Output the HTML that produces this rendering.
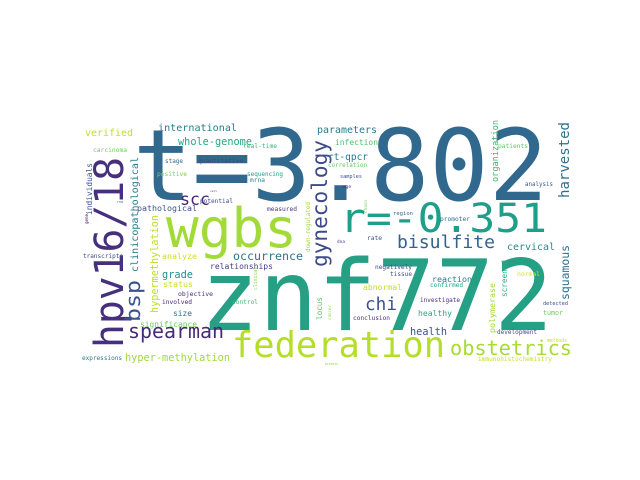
<!DOCTYPE html>
<html><head><meta charset="utf-8"><style>
html,body{margin:0;padding:0;background:#fff;}
svg{display:block;font-family:"DejaVu Sans Mono","Liberation Mono",monospace;}
</style></head><body>
<svg id="cloud" width="640" height="480" viewBox="0 0 640 480"></svg>
<script>
// word data: text, left x, baseline y, font size, length, color, vertical
const words = ["t=3.802","znf772","wgbs","federation","r=-0.351","hpv16/18","obstetrics","spearman","gynecology","harvested","bisulfite","chi","scc","bsp","clinicopathological","international","verified","whole-genome","parameters","infection","rt-qpcr","correlation","samples","age","pathological","occurrence","relationships","hypermethylation","analyze","grade","status","objective","involved","size","significance","hyper-methylation","expressions","transcripts","individuals","carcinoma","rna","gene","stage","quantitative","positive","sequencing","mrna","real-time","cell","potential","measured","down-regulated","clinical","control","locus","cancer","organization","patients","analysis","chain","region","promoter","dna","rate","cervical","negatively","tissue","reaction","confirmed","abnormal","investigate","healthy","conclusion","health","polymerase","screened","squamous","normal","detected","tumor","development","methods","immunohistochemistry","protein"];
const layout = [
[133,200,106,415,"#31688e",0],[200,330,108,353,"#25a085",0],[166,247,62,131,"#a2da37",0],[232,357,40,213,"#b5de2b",0],[340,232,40,207,"#1f9e89",0],
[123,348,40,191,"#46307e",1],[450,355,26,122,"#a8db34",0],[128,338,22,96,"#482878",0],[327,267,24,127,"#3e4a89",1],[569,198,20,76,"#2d708e",1],
[397,248,22,98,"#33638d",0],[365,310,26,32,"#3b528b",0],[180,205,22,30,"#482475",0],[140,322,20,42,"#3a548c",1],[138,272,13,115,"#26818e",1],
[158,131,14,79,"#277f8e",0],[85,136,14,48,"#bddf26",0],[178,145,13,74,"#23a983",0],[317,133,13,60,"#2a788e",0],[335,145,11,43,"#4ac16d",0],
[328,160,13,40,"#2a788e",0],[328,167,7,39,"#5ec962",0],[340,178,7,22,"#3b528b",0],[343,188,7,8,"#482878",0],[137,211,12,60,"#3b528b",0],
[233,260,13,70,"#2c728e",0],[210,269,11,63,"#433e85",0],[158,313,12,98,"#bddf26",1],[162,259,11,35,"#d0e11c",0],[162,278,13,31,"#21908d",0],
[163,287,11,30,"#cde11d",0],[178,296,8,35,"#472c7a",0],[162,304,8,30,"#482475",0],[173,316,11,19,"#2e6e8e",0],[140,327,11,57,"#6ccd5a",0],
[125,361,13,105,"#a0da39",0],[82,360,8,40,"#2a788e",0],[83,258,8,40,"#3e4a89",0],[92,215,10,52,"#3a548c",1],[93,152,8,34,"#6ece58",0],
[117,203,7,6,"#31688e",0],[88,224,6,10,"#44015a",1],[165,163,8,18,"#31688e",0],[198,163,8,45,"#414487",0],[157,176,8,30,"#7ad151",0],
[247,176,8,36,"#1f9e89",0],[250,182,7,15,"#26828e",0],[243,148,8,34,"#35b779",0],[210,192,6,7,"#3e4a89",0],[200,203,8,33,"#3e4a89",0],
[267,211,8,30,"#453781",0],[310,252,8,50,"#a0da39",1],[257,290,8,23,"#86d549",1],[232,304,8,26,"#3bbb75",0],[322,320,11,23,"#55c667",1],
[331,320,7,15,"#9bd93c",1],[498,182,10,62,"#3bbb75",1],[498,148,8,30,"#5ec962",0],[525,186,8,28,"#39568c",0],[367,213,7,13,"#6ece58",1],
[393,215,8,20,"#31688e",0],[440,221,8,30,"#2c728e",0],[337,243,7,8,"#433e85",0],[367,240,11,15,"#3b528b",0],[507,250,14,48,"#228c8d",0],
[375,269,8,37,"#3e4a89",0],[390,276,8,22,"#3b528b",0],[432,282,13,40,"#287c8e",0],[430,287,8,33,"#1f9e89",0],[363,290,12,39,"#c2df23",0],
[420,302,8,40,"#472d7b",0],[418,316,13,34,"#22a785",0],[353,320,8,37,"#46307e",0],[410,335,17,37,"#3b528b",0],[495,333,12,50,"#a0da39",1],
[507,297,12,37,"#25ab82",1],[569,300,14,55,"#2e6f8e",1],[517,276,8,23,"#d8e219",0],[543,305,8,25,"#3e4a89",0],[543,315,8,20,"#6ece58",0],
[497,334,8,40,"#3e4a89",0],[547,342,8,20,"#c8e020",0],[478,361,8,74,"#c2df23",0],[325,365,6,13,"#86d549",0]
];
const svg = document.getElementById('cloud');
const NS = 'http://www.w3.org/2000/svg';
words.forEach((w, i) => {
  const [x, y, fs0, len, col, vert] = layout[i];
  const fs = Math.min(fs0, len / (0.6 * w.length));
  const t = document.createElementNS(NS, 'text');
  
  
  t.setAttribute('x', vert ? 0 : x);
  t.setAttribute('y', vert ? 0 : y);
  if (vert) t.setAttribute('transform', 'translate(' + x + ',' + y + ') rotate(-90)');
  t.setAttribute('font-size', fs.toFixed(1));
  t.setAttribute('fill', col);
  t.setAttribute('textLength', len);
  t.setAttribute('lengthAdjust', 'spacingAndGlyphs');
  t.textContent = w;
  svg.appendChild(t);
});
</script>
</body></html>
